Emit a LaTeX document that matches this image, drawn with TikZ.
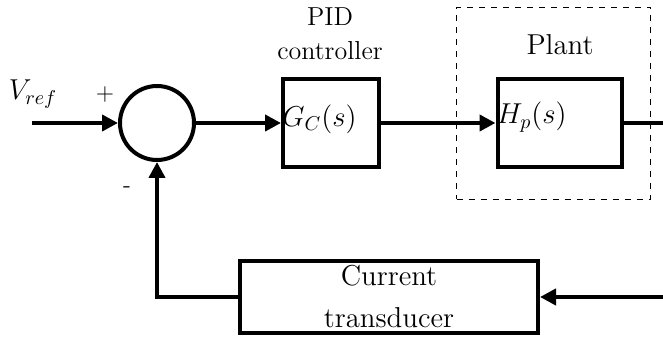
\documentclass[tikz,border=0pt]{standalone}
\usepackage{amsmath}
\usepackage{tikz}
\usetikzlibrary{arrows.meta,positioning}

\begin{document}
\begin{tikzpicture}[
    x=0.5pt, y=-0.5pt,
    block/.style={draw, line width=2pt, minimum height=44pt, inner sep=2pt},
    sumnode/.style={draw, circle, line width=2pt, minimum size=37pt, inner sep=0pt},
    sig/.style={line width=2pt, -{Triangle[length=8pt,width=8pt]}},
    lbl/.style={font=\Large, align=center}
]
    \useasboundingbox (0,0) rectangle (663,341);
    % forward path
    \node[sumnode] (sum) at (157,123) {};
    \node[block, minimum width=48pt] (gc) at (331,123) {};
    \node[block, minimum width=62pt] (hp) at (559.5,123) {};
    \node[draw, dashed, line width=0.8pt, minimum width=97pt, minimum height=96pt] (plant) at (553.5,103.5) {};
    \node[block, minimum width=149pt, minimum height=36pt] (td) at (389,297) {};
    \coordinate (in) at (32,123);
    \coordinate (out) at (663,123);
    \coordinate (fb) at (663,297);
    % labels
    \node[font=\Large, anchor=west, inner sep=0.5pt] at ([yshift=2pt]gc.west) {$G_C(s)$};
    \node[font=\Large, anchor=west, inner sep=0.5pt] at ([yshift=3pt]hp.west) {$H_p(s)$};
    \node[lbl, font=\fontsize{13}{17}\selectfont] (pid) at (330,34) {PID\\controller};
    \node[lbl] (plantlbl) at (560,45) {Plant};
    \node[lbl] at (td) {Current\\[3pt]transducer};
    \node[font=\Large] (vref) at (33,94) {$V_{ref}$};
    \node[font=\large] (plus) at (105,95) {+};
    \node[font=\large] (minus) at (127,190) {-};
    % connectors
    \draw[sig] (in) -- (sum);
    \draw[sig] (sum) -- (gc);
    \draw[sig] (gc) -- (hp);
    \draw[line width=2pt] (hp) -- (out);
    \draw[sig] (fb) -- (td);
    \draw[sig] (td.west) -| (sum.south);
\end{tikzpicture}
\end{document}
